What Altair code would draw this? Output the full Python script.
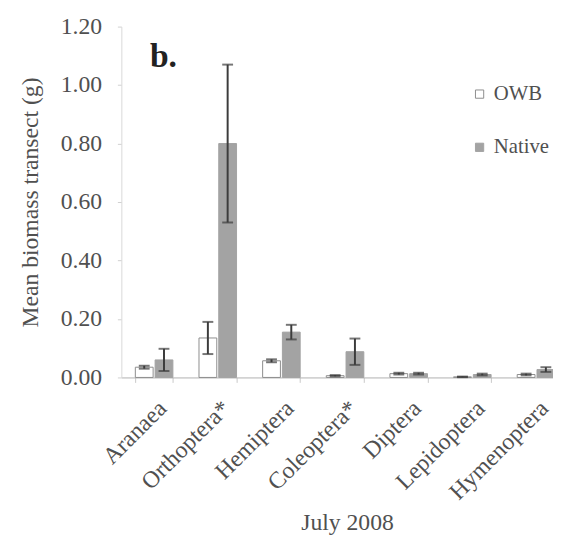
import altair as alt
import pandas as pd

categories = ["Aranaea", "Orthoptera*", "Hemiptera", "Coleoptera*", "Diptera", "Lepidoptera", "Hymenoptera"]
groups = ["OWB", "Native"]
owb_mean = [0.035, 0.135, 0.057, 0.006, 0.013, 0.002, 0.010]
owb_se = [0.005, 0.055, 0.005, 0.002, 0.003, 0.001, 0.003]
native_mean = [0.060, 0.800, 0.155, 0.088, 0.013, 0.010, 0.027]
native_se = [0.038, 0.270, 0.025, 0.045, 0.003, 0.003, 0.008]
y_ticks = [0.0, 0.2, 0.4, 0.6, 0.8, 1.0, 1.2]

rows = []
for i, c in enumerate(categories):
    for g, m, s in (("OWB", owb_mean, owb_se), ("Native", native_mean, native_se)):
        rows.append({"cat": c, "group": g, "mean": m[i], "lo": max(m[i] - s[i], 0), "hi": m[i] + s[i]})
df = pd.DataFrame(rows)

FONT = "Liberation Serif"
TXT = "#505050"

xscale = alt.Scale(range=[0, 454], paddingInner=0.41, paddingOuter=0.22)
x = alt.X("cat:N", sort=categories, title="July 2008", scale=xscale,
          axis=alt.Axis(labelAngle=315, tickBand="extent", ticks=True, tickSize=5,
                        tickColor="#c8c8c8", domainColor="#b0b0b0", labelPadding=14,
                        labelFont=FONT, titleFont=FONT, titleFontWeight="normal",
                        labelFontSize=24, titleFontSize=24, titlePadding=7, titleX=229,
                        labelColor=TXT, titleColor=TXT))
xo = alt.XOffset("group:N", sort=groups, scale=alt.Scale(paddingInner=0.1))
y = alt.Y("mean:Q", title="Mean biomass transect (g)",
          scale=alt.Scale(domain=[0, 1.2], nice=False),
          axis=alt.Axis(values=y_ticks, format=".2f", grid=False, ticks=True, tickSize=4,
                        tickColor="#d0d0d0", domainColor="#d8d8d8", labelPadding=16,
                        labelFont=FONT, titleFont=FONT, titleFontWeight="normal",
                        labelFontSize=24, titleFontSize=24, titlePadding=18,
                        labelColor=TXT, titleColor=TXT))

leg = alt.Legend(orient="none", legendX=353, legendY=58,
                 symbolType="square", symbolSize=70,
                 labelFontSize=21, labelFont=FONT, labelColor=TXT,
                 rowPadding=32, symbolStrokeWidth=1, labelOffset=4)

base = alt.Chart(df)

bars = base.mark_bar(strokeWidth=1).encode(
    x=x, xOffset=xo, y=y,
    fill=alt.Fill("group:N", sort=groups, title=None,
                  scale=alt.Scale(domain=groups, range=["#ffffff", "#a3a3a3"]), legend=leg),
    stroke=alt.Stroke("group:N", sort=groups, title=None,
                      scale=alt.Scale(domain=groups, range=["#8c8c8c", "#a3a3a3"]), legend=leg),
)

ex = alt.X("cat:N", sort=categories)
err = base.mark_rule(color="#3c3c3c", strokeWidth=2).encode(x=ex, xOffset=xo, y="lo:Q", y2="hi:Q")
cap_hi = base.mark_tick(color="#3c3c3c", thickness=2, size=11).encode(x=ex, xOffset=xo, y="hi:Q")
cap_lo = base.mark_tick(color="#3c3c3c", thickness=2, size=11).encode(x=ex, xOffset=xo, y="lo:Q")

label = alt.Chart(pd.DataFrame({"t": ["b."]})).mark_text(
    font=FONT, fontSize=34, fontWeight="bold", align="left", baseline="alphabetic", color="#222222"
).encode(text="t:N", x=alt.value(29), y=alt.value(41))

chart = alt.layer(bars, err, cap_hi, cap_lo, label).properties(
    width=436, height=356,
    autosize=alt.AutoSizeParams(type="none"),
    padding={"left": 115, "top": 15, "right": 2, "bottom": 156},
).configure(font=FONT).configure_view(stroke=None)

chart.save("out.html", embed_options={"renderer": "svg", "actions": False})
